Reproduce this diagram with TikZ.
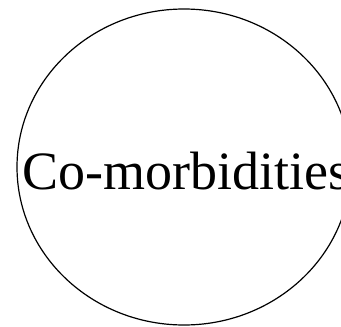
\documentclass[tikz,border=0pt]{standalone}
\usepackage{fontspec}
\setmainfont{Liberation Serif}
\begin{document}
\begin{tikzpicture}[x=1pt,y=-1pt,
  blob/.style={draw=black,line width=1.2pt},
  lbl/.style={font=\fontsize{54}{60}\selectfont,inner sep=0pt,anchor=base}]
\useasboundingbox (0,0) rectangle (341,327);
\begin{scope}
\clip (0,0) rectangle (341,327);
\draw[blob] (184,167) ellipse [x radius=167, y radius=158];
\node[lbl] (t) at (185.5,189) {Co-morbidities};
\end{scope}
\end{tikzpicture}
\end{document}
